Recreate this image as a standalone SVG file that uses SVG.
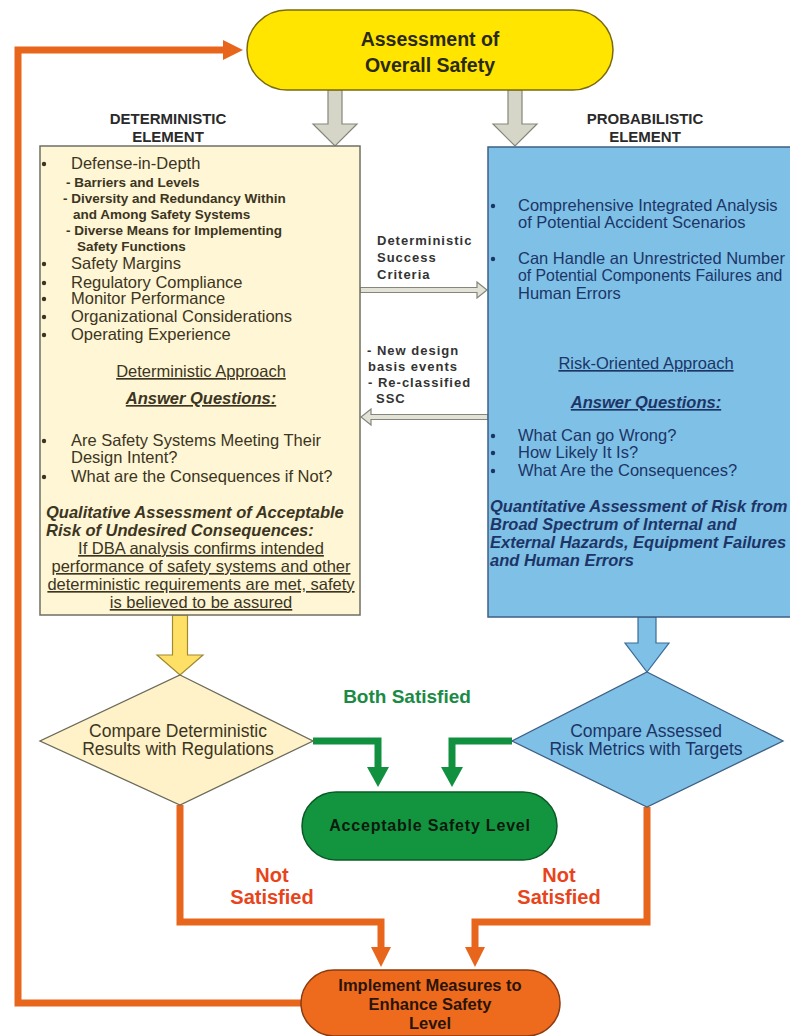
<svg xmlns="http://www.w3.org/2000/svg" width="790" height="1036" viewBox="0 0 790 1036">
<defs>
<style>
text { font-family: "Liberation Sans", Arial, sans-serif; }
.b { font-weight: bold; }
.bi { font-weight: bold; font-style: italic; }
.u { text-decoration: underline; }
.c { text-anchor: middle; }
.lt { fill: #3b3522; font-size: 16.5px; }
.sub { fill: #3b3522; font-size: 13.5px; font-weight: bold; }
.rt { fill: #1d3566; font-size: 16.5px; }
.rts { fill: #1d3566; font-size: 15.8px; }
.mid { fill: #333333; font-size: 13px; font-weight: bold; letter-spacing: 1px; }
.hdr { fill: #2a2a2a; font-size: 15px; font-weight: bold; }
.or { fill: none; stroke: #E8661C; stroke-width: 7; }
.gr { fill: none; stroke: #119140; stroke-width: 7; }
.grayarrow { fill: #D6D6C8; stroke: #85857a; stroke-width: 1.2; }
.hollow { fill: #E2E2D6; stroke: #85857a; stroke-width: 1.2; }
.notsat { fill: #E8441C; font-size: 20px; font-weight: bold; }
</style>
<marker id="ahOr" markerUnits="userSpaceOnUse" viewBox="0 0 20 20" refX="10" refY="10" markerWidth="20" markerHeight="20" orient="auto">
<path d="M0,0 L20,10 L0,20 z" fill="#E8661C"/>
</marker>
<marker id="ahGr" markerUnits="userSpaceOnUse" viewBox="0 0 20 22" refX="10" refY="11" markerWidth="20" markerHeight="22" orient="auto">
<path d="M0,0 L20,11 L0,22 z" fill="#119140"/>
</marker>
</defs>

<rect width="790" height="1036" fill="#ffffff"/>

<g id="connectors">
  <polygon class="grayarrow" points="328,90 342,90 342,124 357,124 335,146 313,124 328,124"/>
  <polygon class="grayarrow" points="508,90 522,90 522,124 537,124 515,146 493,124 508,124"/>
  <polygon class="hollow" points="360,287.5 477,287.5 477,282 487,290 477,298 477,292.5 360,292.5"/>
  <polygon class="hollow" points="488,414.5 371,414.5 371,409 361,417 371,425 371,419.5 488,419.5"/>
  <polygon fill="#FFE066" stroke="#a08a30" stroke-width="1.2" points="172.5,615 187.5,615 187.5,655 203,655 180,675 157,655 172.5,655"/>
  <polygon fill="#7EC0E6" stroke="#3a6a9a" stroke-width="1.2" points="638,617 656,617 656,643 669,643 647,672 625,643 638,643"/>
  <path class="gr" d="M313,741 H378 V777" marker-end="url(#ahGr)"/>
  <path class="gr" d="M512,741 H452 V777" marker-end="url(#ahGr)"/>
  <path class="or" d="M180,805 V922 H381 V957" marker-end="url(#ahOr)"/>
  <path class="or" d="M647,807 V922 H475 V957" marker-end="url(#ahOr)"/>
  <path class="or" d="M301,1003 H18 V50 H233" marker-end="url(#ahOr)"/>
  <text class="mid" x="377" y="245">Deterministic</text>
  <text class="mid" x="377" y="262">Success</text>
  <text class="mid" x="377" y="279">Criteria</text>
  <text class="mid" x="367" y="355">- New design</text>
  <text class="mid" x="368" y="371">basis  events</text>
  <text class="mid" x="368" y="387">- Re-classified</text>
  <text class="mid" x="376" y="403">SSC</text>
  <text class="c" x="407" y="703" fill="#1B8A45" font-size="19" font-weight="bold">Both Satisfied</text>
  <text class="notsat c" x="272" y="882">Not</text>
  <text class="notsat c" x="272" y="904">Satisfied</text>
  <text class="notsat c" x="559" y="882">Not</text>
  <text class="notsat c" x="559" y="904">Satisfied</text>
</g>

<g id="assessment">
  <rect x="247" y="10" width="366" height="80" rx="40" fill="#FFE500" stroke="#7a6a10" stroke-width="1.5"/>
  <text class="b c" x="430" y="46" font-size="19.5" fill="#2a2a10">Assessment of</text>
  <text class="b c" x="430" y="72" font-size="19.5" fill="#2a2a10">Overall Safety</text>
</g>

<g id="det-header">
  <text class="hdr c" x="168" y="124">DETERMINISTIC</text>
  <text class="hdr c" x="168" y="142">ELEMENT</text>
</g>
<g id="prob-header">
  <text class="hdr c" x="645" y="124">PROBABILISTIC</text>
  <text class="hdr c" x="645" y="142">ELEMENT</text>
</g>

<g id="det-box">
  <rect x="40" y="146" width="320" height="469" fill="#FFF6D5" stroke="#6f6f62" stroke-width="1.5"/>
  <g fill="#3b3522">
    <circle cx="44" cy="164" r="2.2"/>
    <circle cx="44" cy="264" r="2.2"/>
    <circle cx="44" cy="283" r="2.2"/>
    <circle cx="44" cy="299" r="2.2"/>
    <circle cx="44" cy="317" r="2.2"/>
    <circle cx="44" cy="335" r="2.2"/>
    <circle cx="44" cy="441" r="2.2"/>
    <circle cx="44" cy="477" r="2.2"/>
  </g>
  <text class="lt" x="71" y="169">Defense-in-Depth</text>
  <text class="sub" x="66" y="187">- Barriers and Levels</text>
  <text class="sub" x="63" y="203">- Diversity and Redundancy Within</text>
  <text class="sub" x="73" y="219">and Among Safety Systems</text>
  <text class="sub" x="66" y="235">- Diverse Means for Implementing</text>
  <text class="sub" x="77" y="251">Safety Functions</text>
  <text class="lt" x="71" y="269">Safety Margins</text>
  <text class="lt" x="71" y="288">Regulatory Compliance</text>
  <text class="lt" x="71" y="304">Monitor Performance</text>
  <text class="lt" x="71" y="322">Organizational Considerations</text>
  <text class="lt" x="71" y="340">Operating Experience</text>
  <text class="lt u c" x="201" y="377">Deterministic Approach</text>
  <text class="lt bi u c" x="201" y="404">Answer Questions:</text>
  <text class="lt" x="71" y="446">Are Safety Systems Meeting Their</text>
  <text class="lt" x="71" y="463">Design Intent?</text>
  <text class="lt" x="71" y="482">What are the Consequences if Not?</text>
  <text class="lt bi" x="46" y="518">Qualitative Assessment of Acceptable</text>
  <text class="lt bi" x="46" y="536">Risk of Undesired Consequences:</text>
  <text class="lt u c" x="201" y="554">If DBA analysis confirms intended</text>
  <text class="lt u c" x="201" y="572">performance of safety systems and other</text>
  <text class="lt u c" x="201" y="590">deterministic requirements are met, safety</text>
  <text class="lt u c" x="201" y="608">is believed to be assured</text>
</g>

<g id="prob-box">
  <rect x="488" y="147" width="320" height="470" fill="#7EC0E6" stroke="#3e5f86" stroke-width="1.5"/>
  <g fill="#1d3566">
    <circle cx="493" cy="206" r="2.2"/>
    <circle cx="493" cy="259" r="2.2"/>
    <circle cx="493" cy="436" r="2.2"/>
    <circle cx="493" cy="453" r="2.2"/>
    <circle cx="493" cy="471" r="2.2"/>
  </g>
  <text class="rt" x="518" y="211">Comprehensive Integrated Analysis</text>
  <text class="rt" x="518" y="228">of Potential Accident Scenarios</text>
  <text class="rt" x="518" y="264">Can Handle an Unrestricted Number</text>
  <text class="rts" x="518" y="281">of Potential Components Failures and</text>
  <text class="rt" x="518" y="299">Human Errors</text>
  <text class="rt u c" x="646" y="369">Risk-Oriented Approach</text>
  <text class="rt bi u c" x="646" y="408">Answer Questions:</text>
  <text class="rt" x="518" y="441">What Can go Wrong?</text>
  <text class="rt" x="518" y="458">How Likely It Is?</text>
  <text class="rt" x="518" y="476">What Are the Consequences?</text>
  <text class="rt bi" x="490" y="512">Quantitative Assessment of Risk from</text>
  <text class="rt bi" x="490" y="530">Broad Spectrum of Internal and</text>
  <text class="rt bi" x="490" y="548">External Hazards, Equipment Failures</text>
  <text class="rt bi" x="490" y="566">and Human Errors</text>
</g>

<g id="compare-det">
  <polygon points="180,675 313,741 180,805 40,741" fill="#FFF2C8" stroke="#6a6a5a" stroke-width="1.3"/>
  <text class="c" x="178" y="737" font-size="17.5" fill="#3b3522">Compare Deterministic</text>
  <text class="c" x="178" y="755" font-size="17.5" fill="#3b3522">Results with Regulations</text>
</g>

<g id="compare-prob">
  <polygon points="647,672 783,741 647,807 512,741" fill="#7EC0E6" stroke="#3e5f86" stroke-width="1.3"/>
  <text class="c" x="646" y="737" font-size="17.5" fill="#1d3566">Compare Assessed</text>
  <text class="c" x="646" y="755" font-size="17.5" fill="#1d3566">Risk Metrics with Targets</text>
</g>

<g id="acceptable">
  <rect x="302" y="792" width="255" height="68" rx="34" fill="#13943F" stroke="#0a5a25" stroke-width="1.5"/>
  <text class="b c" x="430" y="831" font-size="16" letter-spacing="0.8" fill="#0b1a0e">Acceptable Safety Level</text>
</g>

<g id="implement">
  <rect x="301" y="970" width="259" height="66" rx="33" fill="#EE6B1E" stroke="#8a3a10" stroke-width="1.5"/>
  <text class="b c" x="430" y="991" font-size="16.5" fill="#2a1408">Implement Measures to</text>
  <text class="b c" x="430" y="1010" font-size="16.5" fill="#2a1408">Enhance Safety</text>
  <text class="b c" x="430" y="1029" font-size="16.5" fill="#2a1408">Level</text>
</g>
</svg>
